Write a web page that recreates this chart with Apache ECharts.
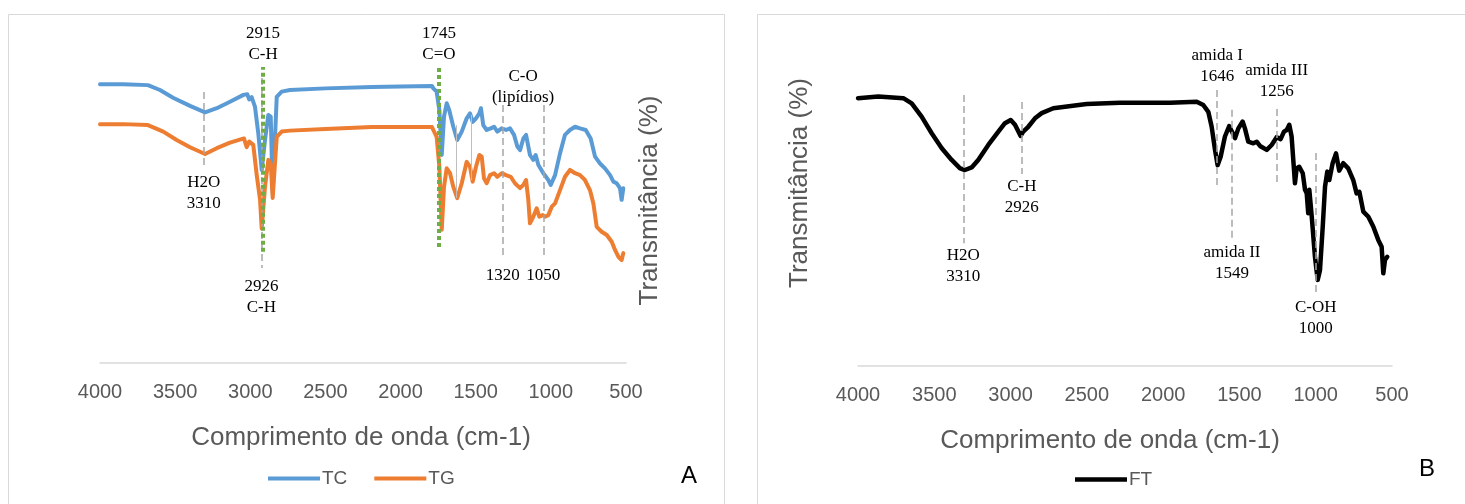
<!DOCTYPE html>
<html>
<head>
<meta charset="utf-8">
<title>FTIR</title>
<script src="https://cdn.jsdelivr.net/npm/echarts@6/dist/echarts.min.js"></script>
<style>
  html, body { margin: 0; padding: 0; background: #ffffff; }
  #chart { width: 1465px; height: 504px; }
</style>
</head>
<body>
<div id="chart"></div>
<script>
// Wavenumber axis ticks (cm-1)
const xTicks = [4000, 3500, 3000, 2500, 2000, 1500, 1000, 500];

// Panel A: TC spectrum (wavenumber, transmittance)
const tcWavenumber = [4000, 3847, 3681, 3601, 3514, 3401, 3301, 3223, 3135, 3046,
  3020, 3007, 2991, 2969, 2947, 2924, 2902, 2880, 2864, 2851,
  2824, 2791, 2736, 2500, 2190, 2000, 1791, 1782, 1760, 1742,
  1726, 1711, 1693, 1676, 1649, 1623, 1593, 1560, 1538, 1520,
  1498, 1476, 1465, 1450, 1427, 1400, 1378, 1356, 1327, 1298,
  1272, 1245, 1223, 1205, 1183, 1165, 1139, 1117, 1101, 1083,
  1050, 1017, 1001, 972, 939, 906, 873, 839, 806, 768,
  735, 706, 673, 640, 606, 584, 562, 540, 529, 518];
const tcTransmittance = [85.8, 85.8, 85.5, 84.0, 81.6, 79.1, 77.1, 78.4, 80.4, 82.5,
  82.7, 81.1, 81.8, 78.9, 70.8, 59.4, 68.6, 76.3, 75.8, 52.3,
  81.9, 83.5, 84.0, 84.5, 84.9, 85.1, 85.2, 84.5, 83.5, 77.8,
  64.0, 75.8, 79.9, 77.8, 72.7, 68.6, 71.2, 75.3, 76.8, 74.2,
  75.3, 76.8, 78.4, 73.2, 71.7, 72.2, 72.7, 71.2, 72.2, 71.7,
  72.2, 70.2, 66.6, 65.5, 69.1, 70.2, 64.0, 62.5, 64.0, 60.9,
  58.4, 56.3, 54.8, 57.8, 64.5, 70.2, 71.7, 72.7, 72.2, 71.7,
  69.1, 63.5, 61.4, 59.9, 57.8, 55.8, 55.3, 53.8, 50.2, 53.8];

// Panel A: TG spectrum
const tgWavenumber = [4000, 3847, 3681, 3579, 3490, 3401, 3301, 3223, 3135, 3042,
  3024, 3007, 2980, 2957, 2935, 2924, 2902, 2880, 2864, 2851,
  2824, 2791, 2736, 2500, 2190, 1791, 1782, 1760, 1742, 1726,
  1711, 1693, 1671, 1649, 1623, 1593, 1560, 1538, 1520, 1498,
  1476, 1460, 1445, 1427, 1405, 1378, 1356, 1327, 1298, 1267,
  1239, 1205, 1183, 1165, 1150, 1139, 1117, 1094, 1077, 1054,
  1039, 1017, 994, 972, 939, 906, 873, 839, 806, 773,
  740, 717, 695, 662, 628, 595, 573, 551, 529, 518];
const tgTransmittance = [73.5, 73.5, 73.2, 71.2, 68.6, 66.4, 64.3, 66.1, 67.8, 69.1,
  66.4, 68.1, 67.1, 57.8, 50.2, 41.4, 54.2, 62.5, 61.4, 50.8,
  69.6, 71.2, 71.5, 72.0, 72.6, 72.6, 71.7, 69.6, 60.4, 41.0,
  54.2, 59.9, 58.4, 54.2, 50.7, 55.3, 61.9, 60.4, 55.8, 60.4,
  64.0, 63.5, 56.8, 55.3, 57.8, 58.4, 57.3, 58.4, 57.8, 57.3,
  55.3, 53.8, 54.8, 56.3, 50.2, 43.0, 45.0, 47.6, 45.0, 45.5,
  45.0, 45.5, 48.1, 49.1, 53.2, 57.3, 59.4, 58.4, 57.8, 56.3,
  53.2, 49.1, 41.9, 40.4, 39.4, 37.3, 34.8, 32.7, 31.7, 33.8];

// Panel B: FT spectrum
const ftWavenumber = [4000, 3867, 3703, 3648, 3583, 3517, 3451, 3386, 3331, 3299,
  3255, 3212, 3146, 3080, 3037, 2999, 2971, 2934, 2917, 2884,
  2840, 2796, 2720, 2501, 2283, 1955, 1780, 1737, 1704, 1682,
  1660, 1643, 1623, 1595, 1567, 1544, 1529, 1507, 1479, 1464,
  1442, 1409, 1387, 1365, 1321, 1289, 1256, 1230, 1208, 1190,
  1173, 1158, 1147, 1136, 1125, 1108, 1085, 1070, 1059, 1049,
  1042, 1026, 1005, 987, 972, 954, 939, 924, 911, 889,
  867, 846, 819, 787, 754, 732, 714, 688, 655, 623,
  590, 568, 557, 546, 531];
const ftTransmittance = [82.4, 82.9, 82.4, 80.8, 76.7, 71.6, 67.0, 63.4, 60.8, 60.3,
  61.1, 63.4, 68.0, 72.1, 74.7, 75.7, 74.2, 70.8, 72.1, 73.6,
  76.2, 77.8, 79.3, 80.6, 81.0, 81.0, 81.3, 80.3, 78.2, 73.6,
  66.5, 61.8, 64.4, 70.6, 73.8, 71.6, 70.1, 73.1, 75.2, 73.1,
  69.0, 68.5, 69.0, 67.7, 66.5, 68.0, 70.4, 69.8, 72.1, 72.6,
  74.2, 70.6, 63.4, 56.2, 60.8, 61.3, 59.3, 54.2, 53.1, 47.0,
  54.2, 45.9, 33.6, 26.5, 29.5, 42.9, 55.2, 59.8, 57.2, 62.4,
  65.4, 60.1, 62.4, 60.8, 57.2, 53.1, 53.6, 47.5, 45.9, 42.9,
  38.8, 36.7, 28.5, 32.6, 33.6];

// Band assignments (wavenumber and caption template; {v} is replaced by the wavenumber)
const bandsA = [3310, 2926, 1320, 1050];
const bandTextA = ['H2O\n{v}', '{v}\nC-H', '{v}', '{v}'];
const highlightA = [2915, 1745];
const highlightTextA = ['{v}\nC-H', '{v}\nC=O'];
const lipidRangeA = [1320, 1050];
const lipidTextA = 'C-O\n(lipídios)';
const linksA = [1628, 1528];

const bandsB = [3310, 2926, 1646, 1549, 1256, 1000];
const bandTextB = ['H2O\n{v}', 'C-H\n{v}', 'amida I\n{v}', 'amida II\n{v}', 'amida III\n{v}', 'C-OH\n{v}'];

// ---- styling ----
const SANS = 'Liberation Sans, Arial, sans-serif';
const SERIF = 'Liberation Serif, Times New Roman, serif';
const GREY_TEXT = '#595959';
const BLUE = '#5B9BD5', ORANGE = '#ED7D31', GREEN = '#70AD47', BLACK = '#000000';

const zip = (xs, ys) => xs.map((x, i) => [x, ys[i]]);
const caption = (tpl, v) => tpl.replace('{v}', String(v));

// vertical extents [from, to, caption gap] of annotation lines in transmittance units;
// the caption is placed past the "to" end
const spanA = [[83.4, 59.8, 3], [87.7, 29.2, 8], [79.4, 32.3, 7], [79.4, 32.3, 7]];
const spanHiA = [[34.2, 91.1, 2], [35.7, 91.1, 2]];
const spanLinkA = [[73.2, 50.8], [76.3, 56.3]];
const spanB = [[83.4, 37.8, 2], [81.2, 59.1, 2], [55.7, 84.9, 3], [78.8, 38.8, 2], [56.6, 80.3, 3], [65.5, 21.8, 2]];

const captionLabel = (text, dist) => ({
  show: true, position: 'end', distance: dist, formatter: text,
  color: BLACK, fontFamily: SERIF, fontSize: 17, lineHeight: 21
});

function vline(x, span, style, label) {
  const a = { coord: [x, span[0]], lineStyle: style, label: label || { show: false } };
  return [a, { coord: [x, span[1]] }];
}

const dashed = { color: '#A6A6A6', width: 1.5, type: [7, 4] };
const dotted = { color: GREEN, width: 4, type: [4, 3] };
const thin = { color: '#BFBFBF', width: 1, type: 'solid' };

const markA = [];
bandsA.forEach((v, i) => markA.push(vline(v, spanA[i], dashed, captionLabel(caption(bandTextA[i], v), spanA[i][2]))));
linksA.forEach((v, i) => markA.push(vline(v, spanLinkA[i], thin)));

const markHiA = highlightA.map((v, i) => vline(v, spanHiA[i], dotted, captionLabel(caption(highlightTextA[i], v), spanHiA[i][2])));

const markB = bandsB.map((v, i) => vline(v, spanB[i], dashed, captionLabel(caption(bandTextB[i], v), spanB[i][2])));

const lipidCenter = (lipidRangeA[0] + lipidRangeA[1]) / 2;

function xAxis(gridIndex, namePadding) {
  return {
    gridIndex, type: 'value', inverse: true,
    min: Math.min(...xTicks), max: Math.max(...xTicks), interval: xTicks[0] - xTicks[1],
    axisLine: { show: true, onZero: false, lineStyle: { color: '#D9D9D9', width: 1.5 } },
    axisTick: { show: false },
    splitLine: { show: false },
    axisLabel: { color: GREY_TEXT, fontSize: 20, fontFamily: SANS, margin: 19,
      formatter: (v) => String(v) },
    name: 'Comprimento de onda (cm-1)', nameLocation: 'middle', nameGap: 62,
    nameTextStyle: { color: GREY_TEXT, fontSize: 26, fontFamily: SANS, padding: namePadding }
  };
}

function yAxis(gridIndex, position, max, gap) {
  return {
    gridIndex, type: 'value', min: 0, max, position,
    axisLine: { show: false }, axisTick: { show: false },
    axisLabel: { show: false }, splitLine: { show: false },
    name: 'Transmitância (%)', nameLocation: 'middle', nameRotate: 90, nameGap: gap,
    nameTextStyle: { color: GREY_TEXT, fontSize: 26, fontFamily: SANS }
  };
}

function lineSeries(name, color, width, data, axisIndex, markLine, markPoint) {
  const s = {
    name, type: 'line', xAxisIndex: axisIndex, yAxisIndex: axisIndex,
    data, symbol: 'none', showSymbol: false,
    lineStyle: { color, width, join: 'round', cap: 'round' },
    itemStyle: { color },
    emphasis: { disabled: true }
  };
  if (markLine) s.markLine = { silent: true, symbol: ['none', 'none'], data: markLine, animation: false };
  if (markPoint) s.markPoint = markPoint;
  return s;
}

const legendText = { color: GREY_TEXT, fontSize: 19, fontFamily: SANS, padding: [0, 0, 0, -3] };

const chart = echarts.init(document.getElementById('chart'), null, { renderer: 'canvas' });

chart.setOption({
  animation: false,
  backgroundColor: '#ffffff',
  grid: [
    { left: 100, right: 839, top: 38, bottom: 141 },
    { left: 858, right: 73, top: 0, bottom: 138 }
  ],
  xAxis: [xAxis(0, [0, 4, 0, 0]), xAxis(1, [0, 30, 0, 0])],
  yAxis: [yAxis(0, 'right', 100, 11), yAxis(1, 'left', 112.6, 45)],
  legend: [
    {
      data: ['TC', 'TG'], left: 263, top: 464, icon: 'rect',
      itemWidth: 52, itemHeight: 4, itemGap: 27, textStyle: legendText
    },
    {
      data: ['FT'], left: 1070, top: 465, icon: 'rect',
      itemWidth: 52, itemHeight: 4.5, textStyle: legendText
    }
  ],
  series: [
    lineSeries('TC', BLUE, 4, zip(tcWavenumber, tcTransmittance), 0, markA, {
      silent: true, animation: false,
      data: [{
        coord: [lipidCenter, 78.6], symbol: 'circle', symbolSize: 0,
        label: { show: true, position: 'top', distance: 0, formatter: lipidTextA,
          color: BLACK, fontFamily: SERIF, fontSize: 17, lineHeight: 21 }
      }]
    }),
    lineSeries('TG', ORANGE, 4, zip(tgWavenumber, tgTransmittance), 0, markHiA),
    lineSeries('FT', BLACK, 4.5, zip(ftWavenumber, ftTransmittance), 1, markB)
  ],
  graphic: [
    { type: 'rect', silent: true, shape: { x: 8.5, y: 14.5, width: 716, height: 520 },
      style: { fill: 'none', stroke: '#D9D9D9', lineWidth: 1 } },
    { type: 'rect', silent: true, shape: { x: 757.5, y: 14.5, width: 720, height: 520 },
      style: { fill: 'none', stroke: '#D9D9D9', lineWidth: 1 } },
    { type: 'text', silent: true, left: 681, top: 464,
      style: { text: 'A', fill: BLACK, font: '24px ' + SANS } },
    { type: 'text', silent: true, left: 1419, top: 457,
      style: { text: 'B', fill: BLACK, font: '24px ' + SANS } }
  ]
});
</script>
</body>
</html>
